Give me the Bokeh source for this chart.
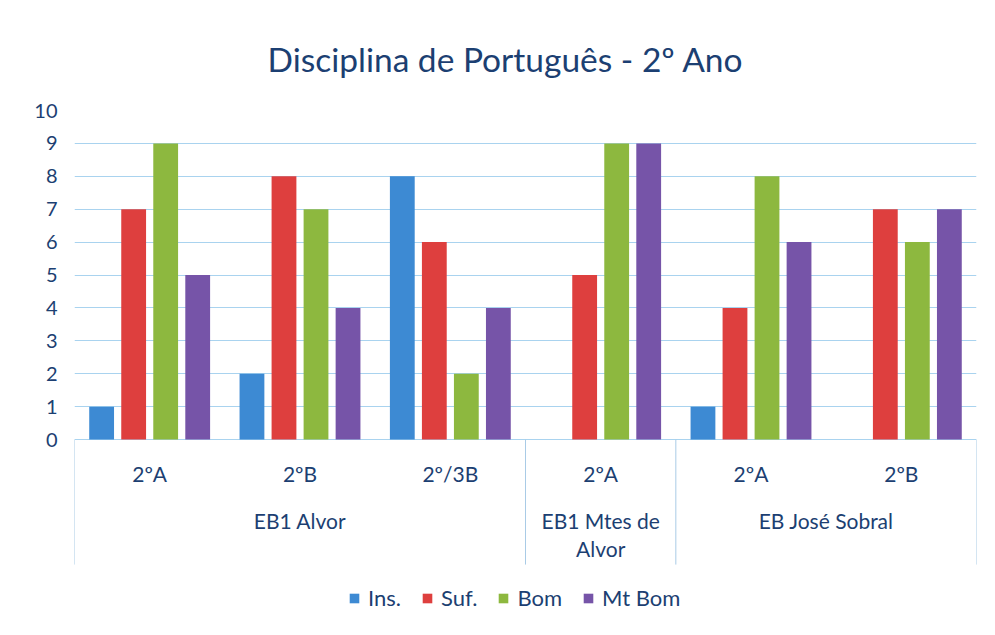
import numpy as np
from bokeh.plotting import figure
from bokeh.models import Range1d, FixedTicker, Legend, LegendItem
from bokeh.core.properties import value
from bokeh.embed import file_html
from bokeh.resources import INLINE

# ---- data ----
groups = ["EB1 Alvor", "EB1 Mtes de\nAlvor", "EB José Sobral"]
group_sizes = [3, 1, 2]
classes = ["2ºA", "2ºB", "2º/3B", "2ºA", "2ºA", "2ºB"]
series = ["Ins.", "Suf.", "Bom", "Mt Bom"]
ins = [1, 2, 8, 0, 1, 0]
suf = [7, 8, 6, 5, 4, 7]
bom = [9, 7, 2, 9, 8, 6]
mt_bom = [5, 4, 4, 9, 6, 7]
y_ticks = list(range(0, 11))
title_text = "Disciplina de Português - 2º Ano"

# ---- style ----
colors = ["#3D8AD3", "#DE3F3E", "#8DB83F", "#7654A8"]
navy = "#1C3F72"
grid_color = "#A9D3EF"
font = "Lato"

n = len(classes)
xs = np.arange(n)
sep_bottom = -3.8
y_bottom = -5.53

p = figure(width=985, height=627,
           x_range=Range1d(-0.5, n - 0.5), y_range=Range1d(y_bottom, 10),
           x_axis_location=None,
           output_backend="svg", toolbar_location=None,
           min_border_left=74, min_border_right=9,
           min_border_top=110, min_border_bottom=6)
p.outline_line_color = None
p.background_fill_color = "white"
p.border_fill_color = "white"

p.yaxis.ticker = FixedTicker(ticks=y_ticks)
p.yaxis.axis_line_color = None
p.yaxis.major_tick_line_color = None
p.yaxis.minor_tick_line_color = None
p.yaxis.major_tick_out = 0
p.yaxis.major_tick_in = 0
p.yaxis.minor_tick_out = 0
p.yaxis.major_label_standoff = 17
p.yaxis.major_label_text_font = font
p.yaxis.major_label_text_font_size = "20px"
p.yaxis.major_label_text_color = navy
p.xgrid.visible = False
p.ygrid.grid_line_color = grid_color
p.ygrid.grid_line_width = 1

# bars
offsets = (np.arange(len(series)) - (len(series) - 1) / 2) * 0.213
items = []
for k, (name, vals, c) in enumerate(zip(series, [ins, suf, bom, mt_bom], colors)):
    r = p.vbar(x=xs + offsets[k], top=vals, bottom=0, width=0.165,
               fill_color=c, line_color=None)
    items.append(LegendItem(label=name, renderers=[r]))

# category axis separators
bounds = np.concatenate([[0], np.cumsum(group_sizes)]) - 0.5
p.segment(x0=bounds, y0=0, x1=bounds, y1=sep_bottom, line_color="#A9CBE6", line_width=1)

# class labels
p.text(x=xs, y=-1.03, text=classes, text_align="center", text_baseline="middle",
       text_font=value(font), text_font_size="21px", text_color=navy)

# group labels
sizes = np.array(group_sizes)
starts = np.cumsum(sizes) - sizes
centers = starts + (sizes - 1) / 2
p.text(x=centers, y=-2.07, text=groups, text_align="center", text_baseline="top",
       text_font=value(font), text_font_size="21px", text_color=navy,
       text_line_height=1.13)

# title
p.title.text = title_text
p.title.align = "left"
p.title.text_font = font
p.title.text_font_size = "33.5px"
p.title.text_font_style = "normal"
p.title.text_color = navy
p.title.standoff = 63
p.title.offset = 193

legend = Legend(items=items, orientation="horizontal", location=(274, 10),
                border_line_color=None, background_fill_alpha=0,
                label_text_font=font, label_text_font_size="22px",
                label_text_color=navy, glyph_width=12, glyph_height=12,
                spacing=20, label_standoff=8, padding=4, margin=0)
p.add_layout(legend)

open("out.html", "w").write(file_html(p, INLINE))
